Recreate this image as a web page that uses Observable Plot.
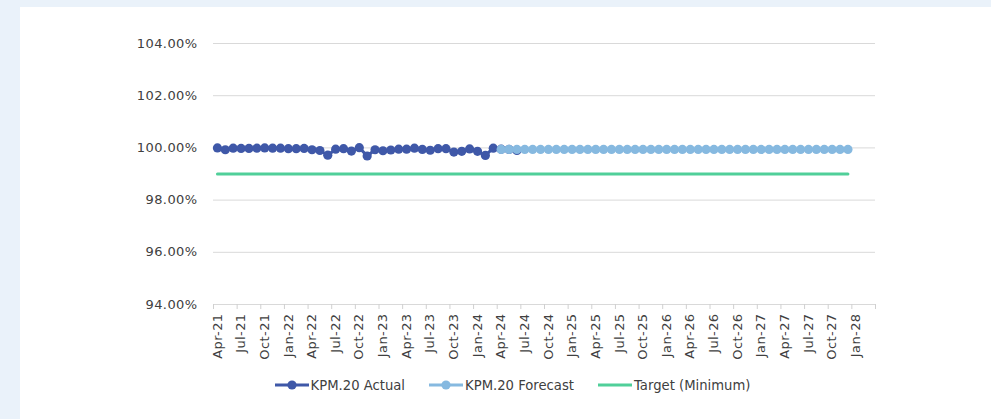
<!DOCTYPE html>
<html>
<head>
<meta charset="utf-8">
<script src="https://cdn.jsdelivr.net/npm/d3@7"></script>
<script src="https://cdn.jsdelivr.net/npm/@observablehq/plot@0.6"></script>
<style>
  html, body { margin: 0; padding: 0; background: #eaf2fa; width: 991px; height: 419px; overflow: hidden; }
  #panel { position: absolute; left: 20px; top: 7px; width: 971px; height: 412px; background: #ffffff; }
  #legend { display: flex; justify-content: center; align-items: center; height: 26px; font-family: "DejaVu Sans", sans-serif; font-size: 13.2px; color: #404040; padding-left: 14px; }
  .item { display: flex; align-items: center; margin: 0 12px; }
  .item svg { margin-right: 2px; }
  #panel svg text { letter-spacing: 0.4px; }
</style>
</head>
<body>
<div id="panel"></div>
<script>
// Categories (one per month)
const months = [
  "Apr-21","May-21","Jun-21","Jul-21","Aug-21","Sep-21","Oct-21","Nov-21","Dec-21",
  "Jan-22","Feb-22","Mar-22","Apr-22","May-22","Jun-22","Jul-22","Aug-22","Sep-22","Oct-22","Nov-22","Dec-22",
  "Jan-23","Feb-23","Mar-23","Apr-23","May-23","Jun-23","Jul-23","Aug-23","Sep-23","Oct-23","Nov-23","Dec-23",
  "Jan-24","Feb-24","Mar-24","Apr-24","May-24","Jun-24","Jul-24","Aug-24","Sep-24","Oct-24","Nov-24","Dec-24",
  "Jan-25","Feb-25","Mar-25","Apr-25","May-25","Jun-25","Jul-25","Aug-25","Sep-25","Oct-25","Nov-25","Dec-25",
  "Jan-26","Feb-26","Mar-26","Apr-26","May-26","Jun-26","Jul-26","Aug-26","Sep-26","Oct-26","Nov-26","Dec-26",
  "Jan-27","Feb-27","Mar-27","Apr-27","May-27","Jun-27","Jul-27","Aug-27","Sep-27","Oct-27","Nov-27","Dec-27",
  "Jan-28","Feb-28","Mar-28"
];

// KPM.20 Actual (%), from Apr-21
const actualStart = "Apr-21";
const actual = [
  100.00, 99.93, 99.99, 99.98, 99.98, 99.99, 100.00, 99.99, 99.99,
  99.97, 99.97, 99.98, 99.93, 99.90, 99.72, 99.95, 99.97, 99.88, 100.01, 99.69, 99.93,
  99.89, 99.92, 99.95, 99.95, 99.99, 99.94, 99.91, 99.97, 99.97, 99.84, 99.87, 99.96,
  99.87, 99.71, 99.99, 99.95, 99.94, 99.90
];

// KPM.20 Forecast (%), from Apr-24
const forecastStart = "Apr-24";
const forecast = [
  99.94, 99.94, 99.94, 99.94, 99.94, 99.94, 99.94, 99.94, 99.94,
  99.94, 99.94, 99.94, 99.94, 99.94, 99.94, 99.94, 99.94, 99.94, 99.94, 99.94, 99.94,
  99.94, 99.94, 99.94, 99.94, 99.94, 99.94, 99.94, 99.94, 99.94, 99.94, 99.94, 99.94,
  99.94, 99.94, 99.94, 99.94, 99.94, 99.94, 99.94, 99.94, 99.94, 99.94, 99.94, 99.94
];

// Target (Minimum) (%), from Apr-21
const targetStart = "Apr-21";
const target = [
  99, 99, 99, 99, 99, 99, 99, 99, 99,
  99, 99, 99, 99, 99, 99, 99, 99, 99, 99, 99, 99, 99, 99, 99,
  99, 99, 99, 99, 99, 99, 99, 99, 99, 99, 99, 99, 99, 99, 99, 99, 99, 99, 99, 99, 99, 99, 99, 99,
  99, 99, 99, 99, 99, 99, 99, 99, 99, 99, 99, 99, 99, 99, 99, 99, 99, 99, 99, 99, 99, 99, 99, 99,
  99, 99, 99, 99, 99, 99, 99, 99, 99
];

const yTicks = [94, 96, 98, 100, 102, 104];
const seriesNames = ["KPM.20 Actual", "KPM.20 Forecast", "Target (Minimum)"];
const colors = ["#3f58a8", "#86b9e0", "#50cf99"];

// build tables: x = category index centre
const toRows = (vals, start) => {
  const s = months.indexOf(start);
  return vals.map((v, i) => ({x: s + i + 0.5, v, month: months[s + i]}));
};
const actualRows = toRows(actual, actualStart);
const forecastRows = toRows(forecast, forecastStart);
const targetRows = toRows(target, targetStart);

const n = months.length;
const tickEvery = 3;
const boundaries = d3.range(0, n + 1, tickEvery);
const labelPos = d3.range(0, n, tickEvery).map(i => i + 0.5);

const chart = Plot.plot({
  width: 971,
  height: 365,
  marginLeft: 193,
  marginRight: 116,
  marginTop: 36,
  marginBottom: 68,
  style: {fontFamily: "DejaVu Sans, sans-serif", fontSize: "13px", color: "#404040", background: "white", overflow: "visible"},
  x: {type: "linear", domain: [0, n]},
  y: {domain: [94, 104]},
  marks: [
    Plot.ruleY(yTicks, {x1: 0, x2: n, stroke: "#d9d9d9", strokeWidth: 1}),
    Plot.axisY({ticks: yTicks, tickSize: 0, tickPadding: 16, tickFormat: d => d.toFixed(2) + "%", label: null, fill: "#404040"}),
    Plot.axisX({ticks: boundaries, tickSize: 5, tickFormat: () => "", stroke: "#d0d0d0", label: null}),
    Plot.axisX({ticks: labelPos, tickSize: 0, tickPadding: 9, tickRotate: -90, tickFormat: d => months[Math.floor(d)], label: null, fill: "#404040"}),
    Plot.line(targetRows, {x: "x", y: "v", stroke: colors[2], strokeWidth: 3}),
    Plot.line(actualRows, {x: "x", y: "v", stroke: colors[0], strokeWidth: 3}),
    Plot.dot(actualRows, {x: "x", y: "v", r: 4.6, fill: colors[0]}),
    Plot.line(forecastRows, {x: "x", y: "v", stroke: colors[1], strokeWidth: 3}),
    Plot.dot(forecastRows, {x: "x", y: "v", r: 4.6, fill: colors[1]})
  ]
});

const panel = document.getElementById("panel");
panel.appendChild(chart);

const legend = document.createElement("div");
legend.id = "legend";
seriesNames.forEach((name, i) => {
  const item = document.createElement("div");
  item.className = "item";
  const dot = i < 2 ? `<circle cx="17" cy="6" r="4.6" fill="${colors[i]}"/>` : "";
  item.innerHTML = `<svg width="34" height="12"><line x1="0" x2="34" y1="6" y2="6" stroke="${colors[i]}" stroke-width="3"/>${dot}</svg><span>${name}</span>`;
  legend.appendChild(item);
});
panel.appendChild(legend);
</script>
</body>
</html>
